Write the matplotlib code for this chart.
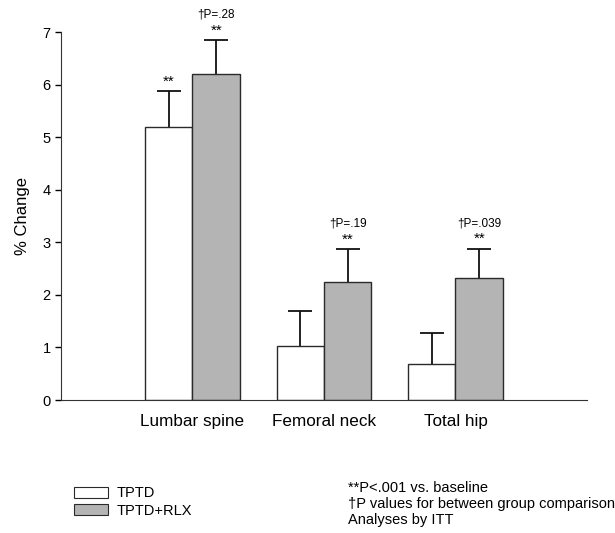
import matplotlib
matplotlib.use("Agg")
import matplotlib.pyplot as plt
import numpy as np
from matplotlib.patches import Patch

plt.rcParams["font.family"] = ["Liberation Sans", "DejaVu Sans"]

categories = ["Lumbar spine", "Femoral neck", "Total hip"]
tptd = [5.2, 1.03, 0.68]
tptd_err = [0.67, 0.67, 0.60]
rlx = [6.2, 2.24, 2.33]
rlx_err = [0.64, 0.63, 0.55]
tptd_marks = ["**", "", ""]
rlx_marks = ["**", "**", "**"]
p_labels = ["\u2020P=.28", "\u2020P=.19", "\u2020P=.039"]
footnotes = ["**P<.001 vs. baseline", "\u2020P values for between group comparison", "Analyses by ITT"]

fig = plt.figure(figsize=(6.15, 5.33), dpi=100)
ax = fig.add_axes([61 / 615, 1 - 400 / 533, (587 - 61) / 615, (400 - 32) / 533])

x = np.arange(1, len(categories) + 1)
w = 0.36
edge = "#2a2a2a"
ax.bar(x - w / 2, tptd, w, color="white", edgecolor=edge, linewidth=1.0, zorder=2)
ax.bar(x + w / 2, rlx, w, color="#b4b4b4", edgecolor=edge, linewidth=1.0, zorder=2)
for xs, vals, errs in [(x - w / 2, tptd, tptd_err), (x + w / 2, rlx, rlx_err)]:
    eb = ax.errorbar(xs, vals, yerr=[np.zeros(len(vals)), errs], fmt="none", ecolor="#111111",
                     elinewidth=1.3, capsize=8.5, capthick=1.3, zorder=1)
    # only the upper cap is drawn in the original
    eb[1][0].set_visible(False)

for i in range(len(categories)):
    top_t = tptd[i] + tptd_err[i]
    top_r = rlx[i] + rlx_err[i]
    if tptd_marks[i]:
        ax.annotate(tptd_marks[i], (x[i] - w / 2, top_t), xytext=(0, 2), textcoords="offset points",
                    ha="center", va="bottom", fontsize=11)
    ax.annotate(rlx_marks[i], (x[i] + w / 2, top_r), xytext=(0, 2), textcoords="offset points",
                ha="center", va="bottom", fontsize=11)
    ax.annotate(p_labels[i], (x[i] + w / 2, top_r), xytext=(0, 14), textcoords="offset points",
                ha="center", va="bottom", fontsize=8.5)

ax.set_xlim(0, 4)
ax.set_ylim(0, 7)
ax.set_yticks(range(0, 8))
ax.set_xticks(x)
ax.set_xticklabels(categories, fontsize=12.3)
ax.tick_params(axis="x", length=0, pad=10)
ax.tick_params(axis="y", direction="out", length=4, labelsize=10.5, width=1)
for s in ["top", "right"]:
    ax.spines[s].set_visible(False)
ax.spines["left"].set_color("#333333")
ax.spines["bottom"].set_color("#333333")
ax.set_ylabel("% Change", fontsize=12, labelpad=9)

handles = [Patch(facecolor="white", edgecolor=edge, linewidth=0.8),
           Patch(facecolor="#b4b4b4", edgecolor=edge, linewidth=0.8)]
fig.legend(handles, ["TPTD", "TPTD+RLX"], loc="upper left", bbox_to_anchor=(64 / 615, 1 - 476 / 533),
           frameon=False, fontsize=10.5, handlelength=2.3, handleheight=0.8, labelspacing=0.25,
           handletextpad=0.6, borderpad=0.2)

for j, t in enumerate(footnotes):
    fig.text(348 / 615, 1 - (488 + j * 16) / 533, t, fontsize=10.5, va="center", ha="left")

fig.savefig("out.png", dpi=100, facecolor="white")
